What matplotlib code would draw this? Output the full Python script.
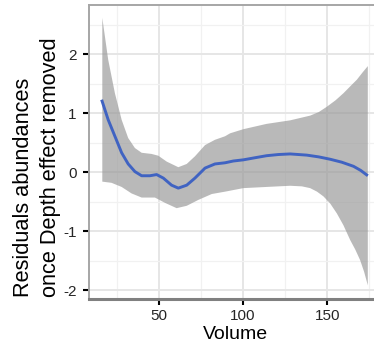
import matplotlib
matplotlib.use("Agg")
import matplotlib.pyplot as plt
from matplotlib.ticker import MultipleLocator

# --- data ---
fit_x = [15.9, 19.8, 23.8, 27.8, 31.7, 35.7, 39.7, 44.6, 48.6, 52.6, 57.5, 61.5, 66.5,
         71.4, 77.4, 83.3, 89.3, 94.2, 100.2, 107.0, 114.0, 121.0, 128.0, 137.9, 145.0,
         151.8, 158.7, 165.7, 170.0, 174.2]
fit_y = [1.23, 0.89, 0.61, 0.33, 0.14, 0.01, -0.06, -0.06, -0.04, -0.10, -0.22, -0.27, -0.22,
         -0.10, 0.07, 0.14, 0.16, 0.19, 0.21, 0.245, 0.28, 0.30, 0.31, 0.29, 0.26,
         0.22, 0.17, 0.10, 0.03, -0.06]

upper_x = [16.3, 19.8, 23.8, 27.8, 31.7, 35.7, 39.7, 45.6, 49.6, 54.6, 61.5, 66.5, 71.4,
           77.4, 83.3, 89.3, 92.3, 100.2, 114.0, 128.0, 139.9, 145.0, 149.8, 155.0, 159.7,
           163.5, 167.7, 171.0, 174.2]
upper_y = [2.62, 1.91, 1.34, 0.89, 0.58, 0.41, 0.33, 0.31, 0.28, 0.18, 0.085, 0.14, 0.27,
           0.46, 0.55, 0.61, 0.66, 0.73, 0.82, 0.88, 0.96, 1.02, 1.11, 1.22, 1.34,
           1.45, 1.57, 1.69, 1.80]

lower_x = [16.3, 21.8, 27.8, 33.7, 39.7, 47.6, 53.6, 60.5, 66.5, 73.4, 81.4, 89.3, 100.2,
           114.0, 128.0, 135.0, 139.9, 144.0, 147.8, 151.8, 155.8, 159.7, 163.7, 166.7,
           169.6, 172.0, 174.2]
lower_y = [-0.16, -0.18, -0.25, -0.36, -0.43, -0.43, -0.52, -0.61, -0.57, -0.47, -0.37, -0.33,
           -0.27, -0.25, -0.23, -0.24, -0.27, -0.33, -0.41, -0.53, -0.70, -0.90, -1.15, -1.31,
           -1.49, -1.69, -1.92]

x_ticks = [50, 100, 150]
y_ticks = [-2, -1, 0, 1, 2]
x_label = "Volume"
y_label = "Residuals abundances\nonce Depth effect removed"

plt.rcParams['font.family'] = ['Liberation Sans', 'DejaVu Sans']

fig = plt.figure(figsize=(3.74, 3.44), dpi=100)
ax = fig.add_axes([0.238, 0.131, 0.781, 0.855])

# ribbon
poly_x = upper_x + lower_x[::-1]
poly_y = upper_y + lower_y[::-1]
ax.fill(poly_x, poly_y, color="#999999", alpha=0.68, linewidth=0, zorder=2)
ax.plot(fit_x, fit_y, color="#4063c2", linewidth=2.1, zorder=3,
        solid_capstyle="butt", solid_joinstyle="round")

ax.set_xlim(8.4, 182.1)
ax.set_ylim(-2.15, 2.84)
ax.set_xticks(x_ticks)
ax.set_yticks(y_ticks)
ax.set_yticklabels([str(t) for t in y_ticks])
ax.xaxis.set_minor_locator(MultipleLocator(25))
ax.yaxis.set_minor_locator(MultipleLocator(0.5))

ax.grid(which="major", color="#e6e6e6", linewidth=1.4, zorder=0)
ax.grid(which="minor", color="#f1f1f1", linewidth=0.9, zorder=0)
ax.set_axisbelow(True)

ax.tick_params(which="major", direction="out", length=4.3, width=1.5, color="black",
               labelsize=11, labelcolor="#262626")
ax.tick_params(axis="y", which="major", pad=4.5)
ax.tick_params(axis="x", which="major", pad=3)
ax.tick_params(which="minor", length=0)

for side in ["top", "left"]:
    ax.spines[side].set_color("#a6a6a6")
    ax.spines[side].set_linewidth(1.4)
ax.spines["bottom"].set_color("#808080")
ax.spines["bottom"].set_linewidth(2.2)
ax.spines["right"].set_visible(False)

ax.set_xlabel(x_label, fontsize=14, labelpad=2, color="black")
fig.text(37 / 374, 1 - 297 / 344, y_label, rotation=90, rotation_mode="anchor",
         ha="left", va="center", multialignment="left", fontsize=15.7,
         linespacing=1.4, color="black")

fig.savefig("out.png", dpi=100)
